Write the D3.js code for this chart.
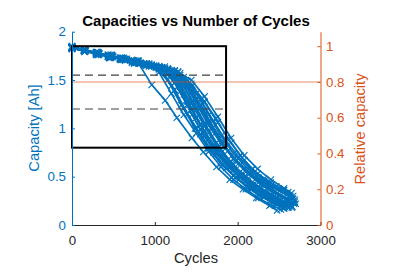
<!DOCTYPE html>
<html>
<head>
<meta charset="utf-8">
<script src="https://cdn.jsdelivr.net/npm/d3@7"></script>
<style>
    body { margin: 0; background: #fff; }
    svg { display: block; font-family: "Liberation Sans", Arial, sans-serif; }
</style>
</head>
<body>
<svg id="capacity-chart" width="393" height="275"></svg>
<script>
// cycle / capacity [Ah] readings, one array per cell
var cellA = [[0,1.84],[161,1.80],[322,1.77],[483,1.74],[644,1.71],[805,1.67],[963,1.45],[1125,1.29],[1266,1.11],[1448,0.90],[1585,0.755],[1745,0.60],[1905,0.47],[2065,0.37],[2225,0.28],[2385,0.20],[2476,0.15]];
var cellB = [[0,1.83],[150,1.81],[300,1.77],[450,1.75],[600,1.71],[750,1.69],[900,1.66],[1050,1.58],[1200,1.36],[1350,1.14],[1500,0.95],[1650,0.76],[1800,0.60],[1950,0.47],[2100,0.37],[2250,0.28],[2400,0.21],[2520,0.16]];
var cellC = [[0,1.84],[155,1.80],[310,1.78],[465,1.74],[620,1.72],[775,1.68],[930,1.66],[1085,1.60],[1240,1.40],[1395,1.15],[1550,0.94],[1705,0.75],[1860,0.59],[2015,0.47],[2170,0.37],[2325,0.29],[2480,0.22],[2560,0.18]];
var cellD = [[0,1.83],[145,1.81],[290,1.77],[435,1.76],[580,1.72],[725,1.70],[870,1.66],[1015,1.64],[1160,1.57],[1305,1.38],[1450,1.14],[1595,0.92],[1740,0.74],[1885,0.60],[2030,0.49],[2175,0.39],[2320,0.31],[2465,0.24],[2610,0.18]];
var cellE = [[0,1.84],[160,1.80],[320,1.78],[480,1.75],[640,1.71],[800,1.69],[960,1.65],[1120,1.62],[1280,1.49],[1440,1.26],[1600,1.02],[1760,0.80],[1920,0.63],[2080,0.50],[2240,0.39],[2400,0.30],[2560,0.24],[2650,0.20]];
var cellF = [[0,1.83],[150,1.80],[300,1.78],[450,1.74],[600,1.72],[750,1.69],[900,1.67],[1050,1.63],[1200,1.59],[1350,1.44],[1500,1.22],[1650,0.98],[1800,0.78],[1950,0.62],[2100,0.50],[2250,0.40],[2400,0.32],[2550,0.25],[2640,0.21]];
var cellG = [[0,1.84],[155,1.81],[310,1.77],[465,1.75],[620,1.72],[775,1.68],[930,1.66],[1085,1.63],[1240,1.59],[1395,1.45],[1550,1.24],[1705,1.01],[1860,0.80],[2015,0.64],[2170,0.52],[2325,0.42],[2480,0.33],[2635,0.26],[2680,0.22]];
var cellH = [[0,1.83],[150,1.81],[300,1.77],[450,1.75],[600,1.71],[750,1.70],[900,1.66],[1050,1.64],[1200,1.60],[1350,1.53],[1500,1.36],[1650,1.14],[1800,0.92],[1950,0.74],[2100,0.60],[2250,0.49],[2400,0.40],[2550,0.33],[2660,0.27]];
var cellI = [[0,1.84],[160,1.81],[320,1.78],[480,1.74],[640,1.72],[800,1.68],[960,1.66],[1120,1.62],[1280,1.59],[1440,1.46],[1600,1.27],[1760,1.06],[1920,0.85],[2080,0.67],[2240,0.53],[2400,0.44],[2560,0.36],[2670,0.30]];
var cellJ = [[0,1.83],[145,1.80],[290,1.78],[435,1.75],[580,1.73],[725,1.69],[870,1.67],[1015,1.63],[1160,1.61],[1305,1.57],[1450,1.44],[1595,1.28],[1740,1.10],[1885,0.89],[2030,0.72],[2175,0.58],[2320,0.48],[2465,0.40],[2610,0.34],[2690,0.24]];
var cellK = [[0,1.84],[150,1.80],[300,1.77],[450,1.75],[600,1.71],[750,1.69],[900,1.65],[1050,1.63],[1200,1.55],[1350,1.35],[1500,1.11],[1650,0.89],[1800,0.71],[1950,0.57],[2100,0.46],[2250,0.36],[2400,0.28],[2550,0.22],[2600,0.20]];
var cellL = [[0,1.83],[165,1.80],[330,1.77],[495,1.75],[660,1.71],[825,1.68],[990,1.65],[1155,1.62],[1320,1.52],[1485,1.30],[1650,1.06],[1815,0.84],[1980,0.66],[2145,0.53],[2310,0.42],[2475,0.33],[2640,0.25],[2700,0.22]];
var cellM = [[0,1.84],[155,1.81],[310,1.78],[465,1.74],[620,1.72],[775,1.69],[930,1.65],[1085,1.63],[1240,1.51],[1395,1.28],[1550,1.04],[1705,0.82],[1860,0.65],[2015,0.52],[2170,0.41],[2325,0.32],[2480,0.25],[2600,0.20]];
var cellN = [[0,1.83],[145,1.81],[290,1.78],[435,1.74],[580,1.72],[725,1.70],[870,1.66],[1015,1.64],[1160,1.61],[1305,1.55],[1450,1.39],[1595,1.18],[1740,0.96],[1885,0.77],[2030,0.62],[2175,0.50],[2320,0.40],[2465,0.32],[2610,0.25],[2655,0.18]];
var cellO = [[0,1.85],[150,1.79],[300,1.79],[450,1.73],[600,1.73],[750,1.67],[900,1.67],[1050,1.61],[1200,1.44],[1350,1.21],[1500,1.00],[1650,0.80],[1800,0.64],[1950,0.51],[2100,0.40],[2250,0.31],[2400,0.24],[2540,0.18]];
var cellP = [[0,1.82],[160,1.82],[320,1.76],[480,1.76],[640,1.70],[800,1.70],[960,1.64],[1120,1.61],[1280,1.44],[1440,1.20],[1600,0.97],[1760,0.77],[1920,0.61],[2080,0.48],[2240,0.38],[2400,0.29],[2560,0.22],[2620,0.19]];
var cellQ = [[0,1.84],[145,1.82],[290,1.76],[435,1.76],[580,1.71],[725,1.71],[870,1.65],[1015,1.65],[1160,1.60],[1305,1.49],[1450,1.28],[1595,1.05],[1740,0.85],[1885,0.68],[2030,0.55],[2175,0.44],[2320,0.35],[2465,0.28],[2610,0.22],[2660,0.19]];
var cellR = [[0,1.83],[155,1.80],[310,1.79],[465,1.73],[620,1.73],[775,1.69],[930,1.67],[1085,1.62],[1240,1.60],[1395,1.49],[1550,1.30],[1705,1.08],[1860,0.87],[2015,0.70],[2170,0.57],[2325,0.46],[2480,0.37],[2635,0.30],[2690,0.26]];
var cellS = [[0,1.84],[150,1.81],[300,1.78],[450,1.73],[600,1.73],[750,1.68],[900,1.67],[1050,1.62],[1200,1.60],[1350,1.50],[1500,1.30],[1650,1.07],[1800,0.86],[1950,0.68],[2100,0.55],[2250,0.44],[2400,0.35],[2550,0.28],[2670,0.23]];
var cellT = [[0,1.83],[160,1.81],[320,1.77],[480,1.75],[640,1.71],[800,1.70],[960,1.65],[1120,1.64],[1280,1.58],[1440,1.50],[1600,1.33],[1760,1.12],[1920,0.90],[2080,0.72],[2240,0.58],[2400,0.47],[2560,0.38],[2650,0.33]];
var cellU = [[0,1.83],[145,1.80],[290,1.79],[435,1.74],[580,1.73],[725,1.68],[870,1.67],[1015,1.63],[1160,1.59],[1305,1.43],[1450,1.20],[1595,0.97],[1740,0.78],[1885,0.63],[2030,0.51],[2175,0.41],[2320,0.33],[2465,0.26],[2580,0.21]];
var cellV = [[0,1.85],[155,1.80],[310,1.76],[465,1.76],[620,1.71],[775,1.70],[930,1.64],[1085,1.62],[1240,1.47],[1395,1.23],[1550,0.99],[1705,0.79],[1860,0.63],[2015,0.50],[2170,0.39],[2325,0.31],[2480,0.23],[2570,0.19]];
var cellW = [[0,1.84],[150,1.80],[300,1.78],[450,1.75],[600,1.71],[750,1.70],[900,1.65],[1050,1.64],[1200,1.58],[1350,1.47],[1500,1.26],[1650,1.03],[1800,0.84],[1950,0.69],[2100,0.57],[2250,0.47],[2400,0.39],[2550,0.36],[2670,0.27]];
var cellX = [[0,1.83],[165,1.81],[330,1.77],[495,1.74],[660,1.72],[825,1.67],[990,1.64],[1155,1.50],[1320,1.24],[1485,1.00],[1650,0.79],[1815,0.62],[1980,0.49],[2145,0.38],[2310,0.29],[2475,0.21],[2560,0.17]];
var cells = [cellA, cellB, cellC, cellD, cellE, cellF, cellG, cellH, cellI, cellJ, cellK, cellL,
             cellM, cellN, cellO, cellP, cellQ, cellR, cellS, cellT, cellU, cellV, cellW, cellX];

var nominalCapacity = 1.85;
var eolRelative = 0.8;
var boxCycles = [0, 1860];
var boxCapacity = [0.8, 1.85];
var dashedCapacity = [1.55, 1.2];

var xTicks = [0, 1000, 2000, 3000];
var yTicks = [0, 0.5, 1, 1.5, 2];
var relTicks = [0, 0.2, 0.4, 0.6, 0.8, 1];

var blue = '#0072bd';
var orange = '#d95319';

var svg = d3.select('#capacity-chart');

var x = d3.scaleLinear().domain([0, 3000]).range([72, 320.5]);
var y = d3.scaleLinear().domain([0, 2]).range([225, 31.7]);
var yRel = d3.scaleLinear().domain([0, 2 / nominalCapacity]).range([225, 31.7]);

//Draw data
var line = d3.line()
    .x(function(d) { return x(d[0]); })
    .y(function(d) { return y(d[1]); });

var data = svg.append('g').attr('class', 'cells');
data.selectAll('.cell-line').data(cells)
    .enter().append('path')
    .attr('class', 'cell-line')
    .attr('d', line)
    .attr('fill', 'none')
    .attr('stroke', blue)
    .attr('stroke-width', 1.7);

var points = [];
cells.forEach(function(c) { c.forEach(function(p) { points.push(p); }); });
data.selectAll('.cell-mark').data(points)
    .enter().append('path')
    .attr('class', 'cell-mark')
    .attr('transform', function(d) { return 'translate(' + x(d[0]) + ',' + y(d[1]) + ')'; })
    .attr('d', 'M-3.2,-3.2L3.2,3.2M-3.2,3.2L3.2,-3.2')
    .attr('stroke', blue)
    .attr('stroke-width', 1.1);

//80% line (relative axis)
svg.append('line')
    .attr('x1', x(0)).attr('x2', x(3000))
    .attr('y1', yRel(eolRelative)).attr('y2', yRel(eolRelative))
    .attr('stroke', orange)
    .attr('stroke-opacity', 0.45)
    .attr('stroke-width', 1.5);

svg.selectAll('.dashed').data(dashedCapacity)
    .enter().append('line')
    .attr('class', 'dashed')
    .attr('x1', x(boxCycles[0])).attr('x2', x(boxCycles[1]))
    .attr('y1', function(d) { return y(d); })
    .attr('y2', function(d) { return y(d); })
    .attr('stroke', '#404040')
    .attr('stroke-width', 1.2)
    .attr('stroke-dasharray', '8,5');

svg.append('rect')
    .attr('x', x(boxCycles[0]))
    .attr('y', y(boxCapacity[1]))
    .attr('width', x(boxCycles[1]) - x(boxCycles[0]))
    .attr('height', y(boxCapacity[0]) - y(boxCapacity[1]))
    .attr('fill', 'none')
    .attr('stroke', '#000')
    .attr('stroke-width', 2);

//Draw axis
var xAxis = d3.axisBottom(x).tickValues(xTicks).tickSizeInner(-3).tickSizeOuter(0).tickPadding(10.5)
    .tickFormat(d3.format('d'));
var yAxis = d3.axisLeft(y).tickValues(yTicks).tickSizeInner(-3).tickSizeOuter(0).tickPadding(6)
    .tickFormat(d3.format('~g'));
var relAxis = d3.axisRight(yRel).tickValues(relTicks).tickSizeInner(-3).tickSizeOuter(0).tickPadding(5.5)
    .tickFormat(d3.format('~g'));

svg.append('g').attr('class', 'x-axis').attr('color', '#262626')
    .attr('transform', 'translate(0,225)').call(xAxis);
svg.append('g').attr('class', 'y-axis').attr('color', blue)
    .attr('transform', 'translate(72,0)').call(yAxis);
svg.append('g').attr('class', 'rel-axis').attr('color', orange)
    .attr('transform', 'translate(320.5,0)').call(relAxis);
svg.selectAll('.x-axis, .y-axis, .rel-axis')
    .attr('font-family', null).attr('font-size', '13.3px');

//Labels
svg.append('text')
    .attr('x', 196).attr('y', 26)
    .attr('text-anchor', 'middle')
    .attr('font-weight', 'bold').attr('font-size', '15px')
    .attr('fill', '#000')
    .text('Capacities vs Number of Cycles');
svg.append('text')
    .attr('x', 196).attr('y', 263)
    .attr('text-anchor', 'middle').attr('font-size', '14.7px')
    .attr('fill', '#262626')
    .text('Cycles');
svg.append('text')
    .attr('transform', 'translate(38.5,128) rotate(-90)')
    .attr('text-anchor', 'middle').attr('font-size', '14.7px')
    .attr('fill', blue)
    .text('Capacity [Ah]');
svg.append('text')
    .attr('transform', 'translate(364.5,129) rotate(-90)')
    .attr('text-anchor', 'middle').attr('font-size', '14.7px')
    .attr('fill', orange)
    .text('Relative capacity');
</script>
</body>
</html>
